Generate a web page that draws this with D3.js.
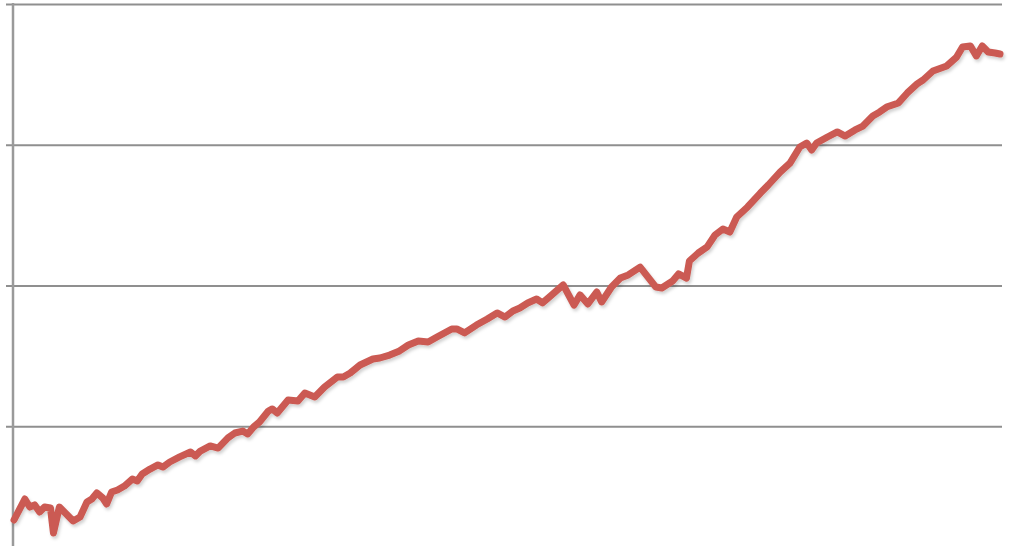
<!DOCTYPE html>
<html>
<head>
<meta charset="utf-8">
<script src="https://cdn.jsdelivr.net/npm/d3@7"></script>
<style>
  html, body { margin: 0; padding: 0; background: #fff; }
  svg { display: block; }
</style>
</head>
<body>
<div class="vis-linechart"></div>
<script>
// period (0 = first observation, 100 = last)
const periods = [0, 1.1, 1.6, 2.1, 2.6, 3.1, 3.7, 4.0, 4.6, 5.2, 6.0, 6.7, 7.4, 7.9, 8.4, 9.0, 9.4, 9.9,
  10.5, 11.2, 12.0, 12.5, 13.0, 13.8, 14.6, 15.1, 15.8, 16.8, 17.9, 18.4, 18.9, 19.9, 20.7, 21.7, 22.4,
  23.2, 23.7, 24.3, 24.9, 25.8, 26.2, 26.7, 27.8, 28.8, 29.5, 30.5, 31.5, 32.8, 33.4, 34.1, 35.1, 36.4,
  37.1, 38.1, 39.1, 40.0, 41.0, 42.0, 42.9, 44.4, 44.9, 45.7, 46.9, 48.0, 49.0, 49.8, 50.6, 51.3, 52.1,
  53.0, 53.6, 54.4, 55.7, 56.8, 57.4, 58.2, 59.1, 59.6, 60.6, 61.5, 62.3, 63.5, 65.1, 65.7, 66.8, 67.4,
  68.2, 68.5, 69.4, 70.3, 71.1, 71.9, 72.6, 73.3, 74.4, 75.7, 76.5, 77.7, 78.7, 79.7, 80.4, 80.9, 81.4,
  82.5, 83.5, 84.3, 85.3, 86.1, 87.1, 87.8, 88.5, 89.7, 90.6, 91.6, 92.2, 93.2, 94.6, 95.6, 96.2, 97.0,
  97.6, 98.2, 98.8, 99.5, 100];

const values = [33.4, 48.3, 42.6, 44.1, 39.1, 42.6, 41.9, 24.2, 42.6, 38.4, 32.7, 35.5, 46.2, 48.3, 52.6,
  49.0, 44.8, 53.3, 54.7, 57.5, 62.5, 61.1, 66.1, 69.6, 72.5, 71.0, 74.6, 78.2, 81.7, 78.9, 82.4, 86.0,
  84.5, 91.7, 95.2, 96.6, 94.5, 99.5, 103.0, 110.8, 112.3, 109.4, 118.7, 117.9, 123.6, 120.8, 127.9,
  135.0, 135.0, 137.8, 143.5, 147.8, 148.5, 150.6, 153.5, 157.7, 160.6, 159.9, 163.4, 169.1, 169.1,
  166.3, 171.9, 176.2, 180.5, 177.6, 181.9, 184.0, 187.6, 190.4, 187.6, 192.5, 200.4, 186.1, 193.3,
  186.9, 195.4, 188.3, 198.9, 205.3, 207.5, 213.1, 198.9, 198.2, 203.2, 208.2, 205.3, 217.4, 223.1,
  227.4, 235.9, 240.1, 238.0, 248.7, 255.8, 265.7, 271.4, 280.6, 287.0, 298.4, 301.2, 296.3, 301.2,
  305.5, 309.1, 306.2, 310.5, 313.3, 320.4, 323.3, 326.8, 329.7, 336.8, 343.2, 346.0, 352.4, 356.0,
  362.3, 369.4, 370.2, 363.1, 370.2, 365.9, 365.2, 364.5];

// horizontal gridlines (no labels shown on the original)
const gridValues = [100, 200, 300, 400];

const data = periods.map((p, i) => ({ t: p, v: values[i] }));

var W = 1034, H = 546;
var margin = { top: 4, left: 14, right: 34 };

var svg = d3.select(".vis-linechart")
  .append("svg")
  .attr("width", W)
  .attr("height", H);

var x = d3.scaleLinear()
  .domain([0, 100])
  .range([margin.left, W - margin.right]);

// value 0 sits below the visible area (chart is cropped at the bottom)
var y = d3.scaleLinear()
  .domain([0, 400])
  .range([567, margin.top]);

// drop shadow under the line
var defs = svg.append("defs");
var f = defs.append("filter").attr("id", "shadow")
  .attr("x", "-5%").attr("y", "-5%").attr("width", "110%").attr("height", "110%");
f.append("feDropShadow")
  .attr("dx", 1.5).attr("dy", 2.5).attr("stdDeviation", 1.5)
  .attr("flood-color", "#000").attr("flood-opacity", 0.18);

// gridlines through a left axis
var grid = svg.append("g")
  .attr("transform", "translate(6,0)")
  .call(d3.axisLeft(y).tickValues(gridValues).tickSize(-(1002 - 6)).tickFormat(""));
grid.select(".domain").remove();
grid.selectAll(".tick line")
  .attr("stroke", "#8f8f8f")
  .attr("stroke-width", 2);

// vertical axis line
svg.append("line")
  .attr("x1", 13).attr("x2", 13)
  .attr("y1", y(400) - 1).attr("y2", H)
  .attr("stroke", "#9a9a9a")
  .attr("stroke-width", 2.5);

var line = d3.line()
  .x(d => x(d.t))
  .y(d => y(d.v))
  .curve(d3.curveLinear);

svg.append("path")
  .datum(data)
  .attr("fill", "none")
  .attr("stroke", "#cb5a52")
  .attr("stroke-width", 7)
  .attr("stroke-linejoin", "round")
  .attr("stroke-linecap", "round")
  .attr("filter", "url(#shadow)")
  .attr("d", line);
</script>
</body>
</html>
